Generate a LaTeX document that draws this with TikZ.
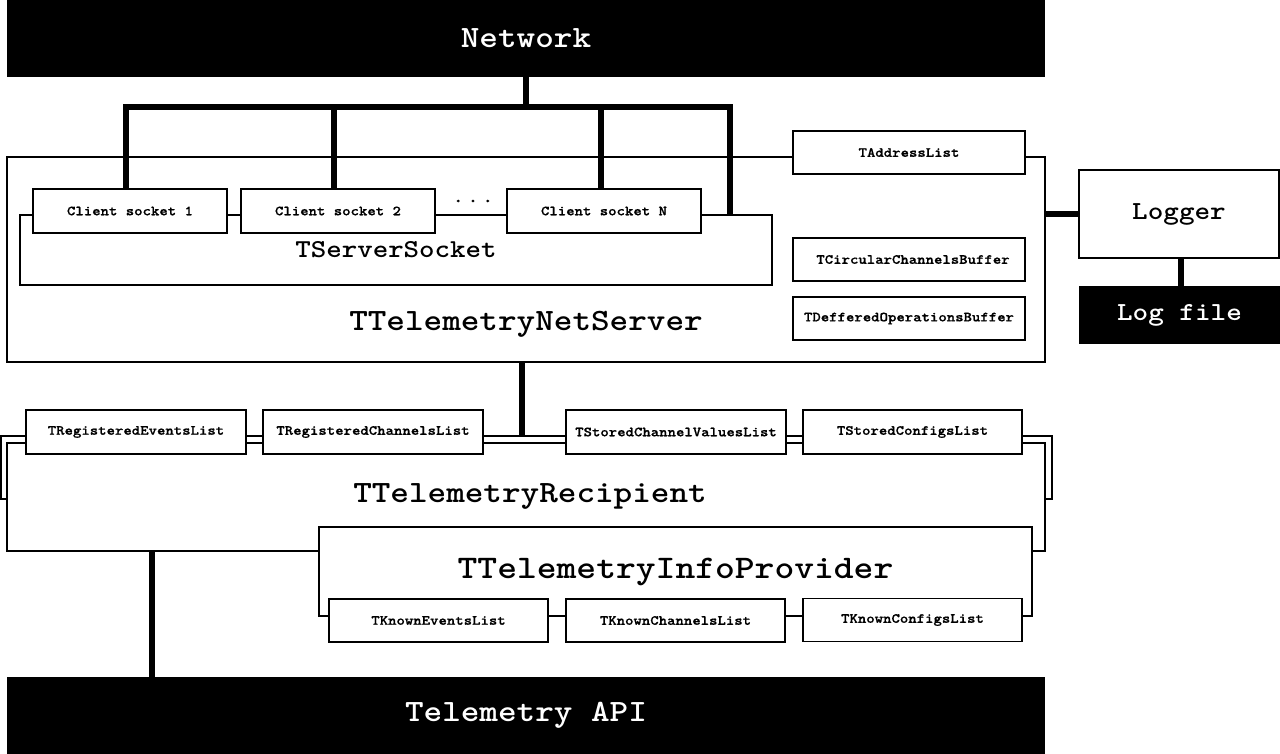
\documentclass[tikz,border=0pt]{standalone}
\usepackage{fontspec}
\newfontfamily\monob[FakeStretch=1.143]{lmmonolt10-bold.otf}
\newfontfamily\monosm[FakeStretch=1.143, FakeBold=0.8]{lmmonolt10-bold.otf}
\begin{document}
\begin{tikzpicture}[x=1pt,y=-1pt,
  frame/.style={draw=black, line width=1.6pt, fill=white, rectangle, inner sep=0pt},
  bigblk/.style={fill=black, text=white, rectangle, inner sep=0pt, font=\monob\fontsize{31}{36}\selectfont},
  small/.style={frame, minimum width=220pt, minimum height=44pt, font=\monosm\fontsize{14}{16}\selectfont},
  bigtxt/.style={font=\monob\fontsize{31}{36}\selectfont, inner sep=0pt},
  midtxt/.style={font=\monob\fontsize{26}{30}\selectfont},
  bus/.style={line width=6pt, line join=miter, black}]
\useasboundingbox (0,0) rectangle (1280,754);

% Network / API
\node[bigblk, minimum width=1038pt, minimum height=77pt] (net) at (526,38.5) {\raisebox{-2pt}{Network}};
\node[bigblk, minimum width=1038pt, minimum height=77pt] (api) at (526,715.5) {\raisebox{-1pt}{Telemetry API}};

% Net server
\node[frame, minimum width=1038pt, minimum height=205pt] (netserver) at (526,259.5) {};
\node[bigtxt] (netserverlbl) at (526,324) {TTelemetryNetServer};
\node[small, minimum width=232pt, minimum height=43pt] (addr) at (909,152.5) {TAddressList};
\node[small, minimum width=232pt, minimum height=43pt] (circ) at (909,259.5) {\hspace*{8pt}TCircularChannelsBuffer};
\node[small, minimum width=232pt, minimum height=43pt] (deff) at (909,318.5) {TDefferedOperationsBuffer};

% Server socket
\node[frame, minimum width=752pt, minimum height=70pt, font=\monob\fontsize{25.8}{30}\selectfont] (serversocket) at (396,250) {\raisebox{-2pt}{TServerSocket}};
\node[small, minimum width=194pt] (cs1) at (130,211) {Client socket 1};
\node[small, minimum width=194pt] (cs2) at (338,211) {Client socket 2};
\node[small, minimum width=194pt] (csN) at (604,211) {Client socket N};
\node[font=\monosm\fontsize{18}{20}\selectfont, inner sep=0pt] (dots) at (473,201) {.\hspace{4pt}.\hspace{4pt}.};

% Network bus
\coordinate (busR) at (730,107);
\draw[bus] ([xshift=-4pt]cs1.north) |- (busR) -- (busR |- serversocket.north);
\draw[bus] ([xshift=-4pt]cs2.north) -- ([xshift=-4pt]cs2.north |- busR);
\draw[bus] ([xshift=-3pt]csN.north) -- ([xshift=-3pt]csN.north |- busR);
\draw[bus] (net.south) -- (net.south |- busR);

% Recipient
\node[frame, minimum width=1051pt, minimum height=63pt] (recipientback) at (526.5,467.5) {};
\node[frame, minimum width=1038pt, minimum height=108pt, bigtxt] (recipient) at (526,497) {\hspace*{8pt}TTelemetryRecipient\rule[-8pt]{0pt}{0pt}};
\node[frame, minimum width=713pt, minimum height=89pt, font=\monob\fontsize{33}{38}\selectfont] (info) at (675.5,571.5) {\raisebox{-1pt}{TTelemetryInfoProvider}};

\node[small] (re) at (136,432) {TRegisteredEventsList};
\node[small] (rc) at (373,432) {TRegisteredChannelsList};
\node[small] (sv) at (676,432) {TStoredChannelValuesList};
\node[small, minimum width=219pt] (sc) at (912.5,432) {TStoredConfigsList};

\node[small, minimum width=219pt, minimum height=43pt] (ke) at (438.5,620.5) {TKnownEventsList};
\node[small, minimum width=219pt, minimum height=43pt] (kc) at (675.5,620.5) {TKnownChannelsList};
\node[small, minimum width=219pt, minimum height=43pt] (kf) at (912.5,620) {TKnownConfigsList};

\coordinate (nsTap) at (522,0);
\coordinate (apiTap) at (152,0);
\coordinate (logTap) at (1180.5,0);
\draw[bus] (netserver.south -| nsTap) -- (recipientback.north -| nsTap);
\draw[bus] (recipient.south -| apiTap) -- (api.north -| apiTap);

% Logger
\node[frame, minimum width=200pt, minimum height=88pt, midtxt] (logger) at (1179,214) {Logger};
\node[fill=black, text=white, minimum width=201pt, minimum height=58pt, inner sep=0pt, midtxt] (logfile) at (1179.5,315) {Log file};
\draw[bus] (logger.west) -- (logger.west -| netserver.east);
\draw[bus] (logger.south -| logTap) -- (logfile.north -| logTap);
\end{tikzpicture}
\end{document}
